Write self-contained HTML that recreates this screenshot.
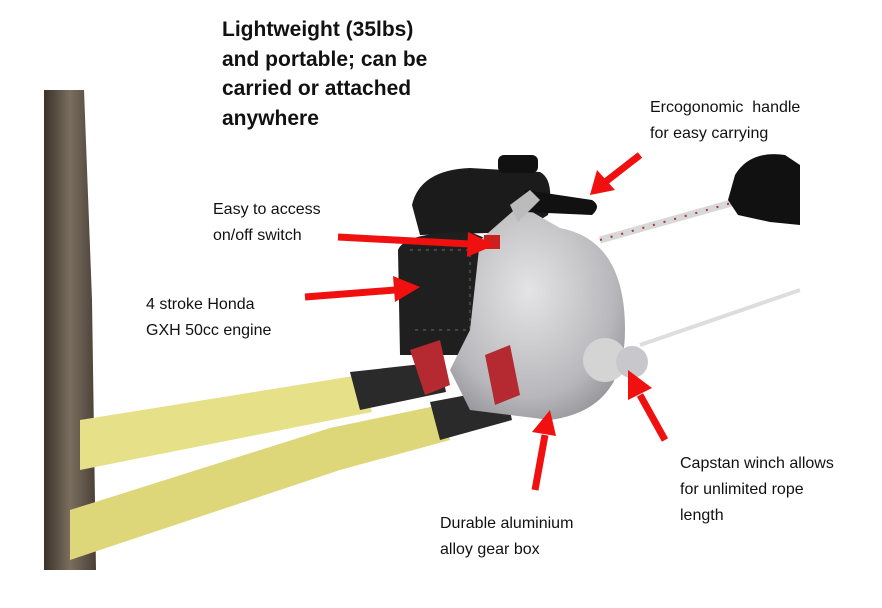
<!DOCTYPE html>
<html><head><style>
body{margin:0;background:#fff;width:882px;height:608px;overflow:hidden;position:relative;font-family:"Liberation Sans","DejaVu Sans",sans-serif}
.t{position:absolute;color:#111;white-space:nowrap}
.b{font-weight:bold;font-size:21px;line-height:29.5px}
.s{font-size:16px;line-height:26px}
</style></head><body>
<svg width="882" height="608" style="position:absolute;left:0;top:0">
<defs>
<linearGradient id="tr" x1="0" x2="1"><stop offset="0" stop-color="#3a3128"/><stop offset=".5" stop-color="#7a6e60"/><stop offset="1" stop-color="#4a4036"/></linearGradient>
<radialGradient id="al" cx=".45" cy=".4" r=".7"><stop offset="0" stop-color="#e4e4e6"/><stop offset=".7" stop-color="#b8b8bc"/><stop offset="1" stop-color="#8e8e92"/></radialGradient>
</defs>
<path d="M44 90 L84 90 L92 300 L96 570 L44 570 Z" fill="url(#tr)"/>
<path d="M80 420 L360 375 L372 412 L80 470 Z" fill="#e6e088"/>
<path d="M70 510 L330 428 L440 405 L450 440 L340 470 L70 560 Z" fill="#ddd77a"/>
<path d="M350 372 L440 362 L446 392 L360 410 Z" fill="#2a2a2a"/>
<path d="M430 402 L505 388 L512 420 L440 440 Z" fill="#2a2a2a"/>
<path d="M600 240 L760 195" stroke="#d8d8d8" stroke-width="7"/>
<path d="M600 240 L760 195" stroke="#a33" stroke-width="2" stroke-dasharray="2 9"/>
<path d="M640 345 L800 290" stroke="#ddd" stroke-width="4"/>
<path d="M735 175 Q750 150 785 155 L800 165 L800 225 L770 222 L738 215 L728 200 Z" fill="#111"/>
<path d="M412 205 Q420 170 470 168 L540 172 Q555 180 548 215 L520 232 L420 235 Z" fill="#1b1b1b"/>
<rect x="498" y="155" width="40" height="18" rx="6" fill="#111"/>
<path d="M398 250 Q405 232 470 232 L490 240 L480 355 L400 355 Z" fill="#1f1f1f"/>
<path d="M410 250 L470 250 L470 330 L410 330" fill="none" stroke="#444" stroke-width="2" stroke-dasharray="3 5"/>
<path d="M480 240 L520 205 L560 228 Q625 240 625 330 Q625 410 550 420 L470 410 L450 370 L470 330 Z" fill="url(#al)"/>
<circle cx="605" cy="360" r="22" fill="#d4d4d4"/>
<circle cx="632" cy="362" r="16" fill="#c8c8cc"/>
<path d="M525 190 L592 200 Q602 206 592 215 L525 212 Z" fill="#111"/>
<path d="M510 205 L530 190 L540 200 L518 222 Z" fill="#bbb"/>
<rect x="484" y="235" width="16" height="14" fill="#c92020"/>
<path d="M410 350 L440 340 L450 385 L425 395 Z" fill="#b52a30"/>
<path d="M485 355 L510 345 L520 395 L495 405 Z" fill="#b52a30"/>
<g fill="#f01010" stroke="#f01010" stroke-width="7">
<line x1="640" y1="155" x2="604" y2="183"/>
<polygon points="590,195 597,170 615,190" stroke="none"/>
<line x1="338" y1="237" x2="470" y2="244"/>
<polygon points="495,245 468,232 467,257" stroke="none"/>
<line x1="305" y1="297" x2="395" y2="290"/>
<polygon points="420,287 393,276 395,302" stroke="none"/>
<line x1="665" y1="440" x2="640" y2="395"/>
<polygon points="628,370 628,400 652,388" stroke="none"/>
<line x1="535" y1="490" x2="545" y2="435"/>
<polygon points="550,410 532,432 556,436" stroke="none"/>
</g>
</svg>
<div class="t b" style="left:222px;top:15px">Lightweight (35lbs)<br>and portable; can be<br>carried or attached<br>anywhere</div>
<div class="t s" style="left:650px;top:95px">Ercogonomic&nbsp; handle<br>for easy carrying</div>
<div class="t s" style="left:213px;top:197px">Easy to access<br>on/off switch</div>
<div class="t s" style="left:146px;top:292px">4 stroke Honda<br>GXH 50cc engine</div>
<div class="t s" style="left:680px;top:451px">Capstan winch allows<br>for unlimited rope<br>length</div>
<div class="t s" style="left:440px;top:511px">Durable aluminium<br>alloy gear box</div>
</body></html>
